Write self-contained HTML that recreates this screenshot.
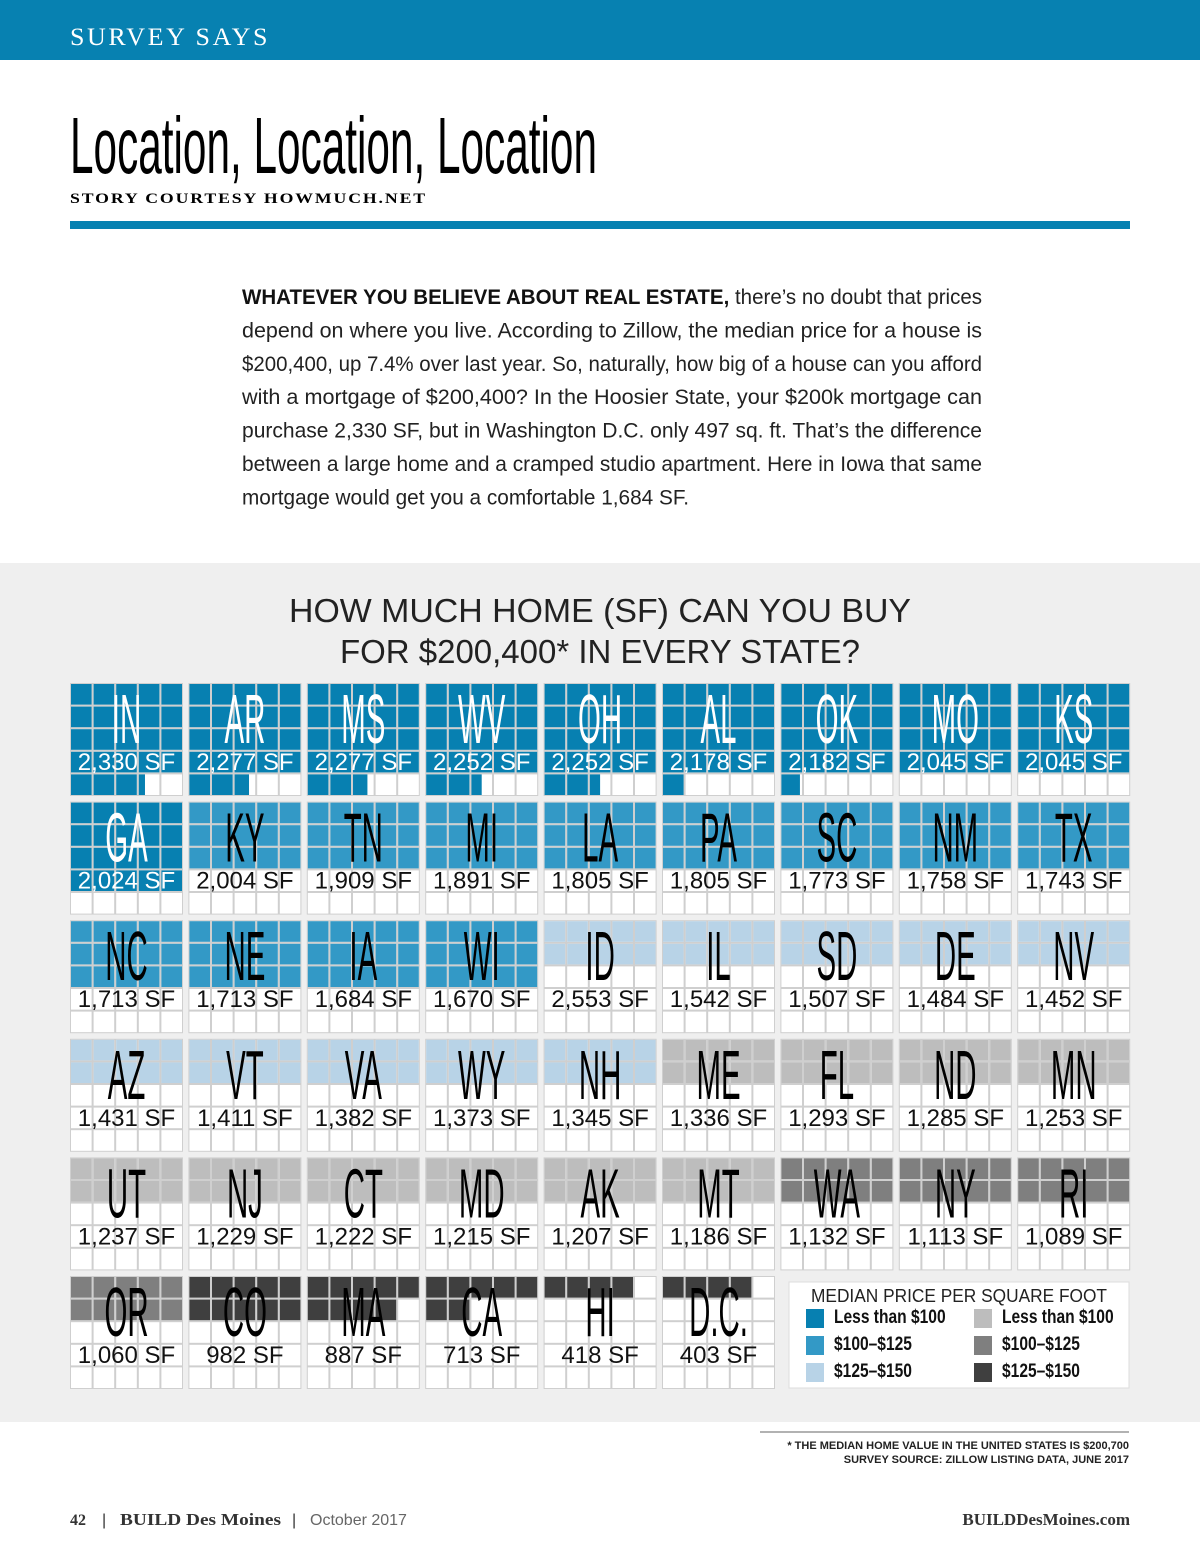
<!DOCTYPE html>
<html><head><meta charset="utf-8"><style>
html,body{margin:0;padding:0;background:#fff}
svg{display:block}
text{font-family:"Liberation Sans",sans-serif}
</style></head><body>
<svg id="pg" width="1200" height="1553" viewBox="0 0 1200 1553">
<rect x="0" y="0" width="1200" height="60" fill="#0781b1"/>
<text x="70" y="45" fill="#fff" font-size="25" letter-spacing="2.5" textLength="200" lengthAdjust="spacingAndGlyphs" style="font-family:'Liberation Serif',serif">SURVEY SAYS</text>
<text x="70" y="173" font-size="80" textLength="527" lengthAdjust="spacingAndGlyphs">Location, Location, Location</text>
<text x="70" y="203" font-size="15" font-weight="bold" letter-spacing="1.6" textLength="357" lengthAdjust="spacingAndGlyphs" style="font-family:'Liberation Serif',serif">STORY COURTESY HOWMUCH.NET</text>
<rect x="70" y="221" width="1060" height="8" fill="#0781b1"/>
<g id="body" font-size="21" fill="#222"></g>
<rect x="0" y="563" width="1200" height="859" fill="#efefef"/>
<text x="600" y="622" text-anchor="middle" font-size="33" textLength="622" lengthAdjust="spacingAndGlyphs" fill="#222">HOW MUCH HOME (SF) CAN YOU BUY</text>
<text x="600" y="663" text-anchor="middle" font-size="33" textLength="520" lengthAdjust="spacingAndGlyphs" fill="#222">FOR $200,400* IN EVERY STATE?</text>
<g id="tiles"></g>
<g>
<rect x="789" y="1282" width="340" height="106" fill="#fff" stroke="#ddd"/>
<text x="959" y="1302" text-anchor="middle" font-size="18" fill="#222" textLength="296" lengthAdjust="spacingAndGlyphs">MEDIAN PRICE PER SQUARE FOOT</text>
<g id="leg"></g>
</g>
<line x1="760" y1="1432" x2="1129" y2="1432" stroke="#666"/>
<text x="1129" y="1449" text-anchor="end" font-size="11" font-weight="bold" fill="#222">* THE MEDIAN HOME VALUE IN THE UNITED STATES IS $200,700</text>
<text x="1129" y="1463" text-anchor="end" font-size="11" font-weight="bold" fill="#222">SURVEY SOURCE: ZILLOW LISTING DATA, JUNE 2017</text>
<g font-size="16" fill="#333">
<text x="70" y="1525" font-weight="bold" style="font-family:'Liberation Serif',serif">42</text>
<text x="102" y="1525">|</text>
<text x="120" y="1525" font-size="17" font-weight="bold" textLength="161" lengthAdjust="spacingAndGlyphs" style="font-family:'Liberation Serif',serif">BUILD Des Moines</text>
<text x="292" y="1525">|</text>
<text x="310" y="1525" fill="#666">October 2017</text>
</g>
<text x="1130" y="1525" text-anchor="end" font-size="17" font-weight="bold" fill="#333" style="font-family:'Liberation Serif',serif">BUILDDesMoines.com</text>
</svg>
<script>
const NS="http://www.w3.org/2000/svg";
const states=["IN","AR","MS","WV","OH","AL","OK","MO","KS","GA","KY","TN","MI","LA","PA","SC","NM","TX","NC","NE","IA","WI","ID","IL","SD","DE","NV","AZ","VT","VA","WY","NH","ME","FL","ND","MN","UT","NJ","CT","MD","AK","MT","WA","NY","RI","OR","CO","MA","CA","HI","D.C."];
const sqft=[2330,2277,2277,2252,2252,2178,2182,2045,2045,2024,2004,1909,1891,1805,1805,1773,1758,1743,1713,1713,1684,1670,2553,1542,1507,1484,1452,1431,1411,1382,1373,1345,1336,1293,1285,1253,1237,1229,1222,1215,1207,1186,1132,1113,1089,1060,982,887,713,418,403];
const filled=[23.3,22.7,22.7,22.5,22.5,21,20.9,20,20,20,15,15,15,15,15,15,15,15,15,15,15,15,10,10,10,10,10,10,10,10,10,10,10,10,10,10,10,10,10,10,10,10,10,10,10,10,10,9,7,4,4];
const tier=[0,0,0,0,0,0,0,0,0,0,1,1,1,1,1,1,1,1,1,1,1,1,2,2,2,2,2,2,2,2,2,2,3,3,3,3,3,3,3,3,3,3,4,4,4,4,5,5,5,5,5];
const tierColors=["#0780b1","#3399c6","#b8d3e7","#bdbdbd","#7f7f7f","#3f3f3f"];
const legendLabels=["Less than $100","$100\u2013$125","$125\u2013$150","Less than $100","$100\u2013$125","$125\u2013$150"];
function el(t,a,p){const e=document.createElementNS(NS,t);for(const k in a)e.setAttribute(k,a[k]);p.appendChild(e);return e;}
const T=document.getElementById('tiles');
const x0=70,y0=683,pitchX=118.4,pitchY=118.6,tileW=113,cell=tileW/5;
function tileX(i){return x0+(i%9)*pitchX;}
function tileY(i){return y0+Math.floor(i/9)*pitchY;}
states.forEach((s,i)=>{
  const g=el('g',{},T);
  
  
  const tx=tileX(i),ty=tileY(i);
  el('rect',{x:tx,y:ty,width:tileW,height:tileW,fill:'#cfcfcf'},g);
  const col=tierColors[tier[i]];
  for(let k=0;k<25;k++){
    const cx=tx+(k%5)*cell+1,cy=ty+Math.floor(k/5)*cell+1;
    el('rect',{x:cx,y:cy,width:cell-2,height:cell-2,fill:'#fff'},g);
    const f=Math.max(0,Math.min(1,filled[i]-k));
    if(f>0){
      const c=el('rect',{x:cx,y:cy,width:(cell-2)*f,height:cell-2,fill:col},g);
      
      
    }
  }
  const white=tier[i]===0;
  const ab=el('text',{x:0,y:0,'font-size':70,'text-anchor':'middle',fill:white?'#fff':'#000',transform:`translate(${tx+tileW/2},${ty+60}) scale(0.42,1)`},g);
  ab.textContent=s;
  
  
  const lblWhite=white&&filled[i]>=20;
  const nl=el('text',{x:tx+tileW/2,y:ty+87,'font-size':24,'text-anchor':'middle',fill:lblWhite?'#fff':'#111'},g);
  nl.textContent=sqft[i].toLocaleString('en-US')+' SF';
  
  
});
const L=document.getElementById('leg');
legendLabels.forEach((t,i)=>{
  const lx=i<3?806:974, ly=1309+(i%3)*27;
  const sw=el('rect',{x:lx,y:ly,width:18,height:19,fill:tierColors[i]},L);
  
  
  const tt=el('text',{x:0,y:0,'font-size':19,'font-weight':'bold',fill:'#111',transform:`translate(${lx+28},${ly+14}) scale(0.82,1)`},L);
  tt.textContent=t;
  
  
});
const lines=[["WHATEVER YOU BELIEVE ABOUT REAL ESTATE,"," there\u2019s no doubt that prices"],["","depend on where you live. According to Zillow, the median price for a house is"],["","$200,400, up 7.4% over last year. So, naturally, how big of a house can you afford"],["","with a mortgage of $200,400? In the Hoosier State, your $200k mortgage can"],["","purchase 2,330 SF, but in Washington D.C. only 497 sq. ft. That\u2019s the difference"],["","between a large home and a cramped studio apartment. Here in Iowa that same"],["","mortgage would get you a comfortable 1,684 SF."]];
const B=document.getElementById('body');
lines.forEach((ln,i)=>{
  const t=el('text',{x:242,y:304+i*33.4,textLength:i===6?447:740,lengthAdjust:'spacingAndGlyphs'},B);
  if(ln[0]){const b=el('tspan',{'font-weight':'bold',fill:'#111'},t);b.textContent=ln[0];}
  const r=el('tspan',{},t);r.textContent=ln[1];
  
  
});
</script>
</body></html>
